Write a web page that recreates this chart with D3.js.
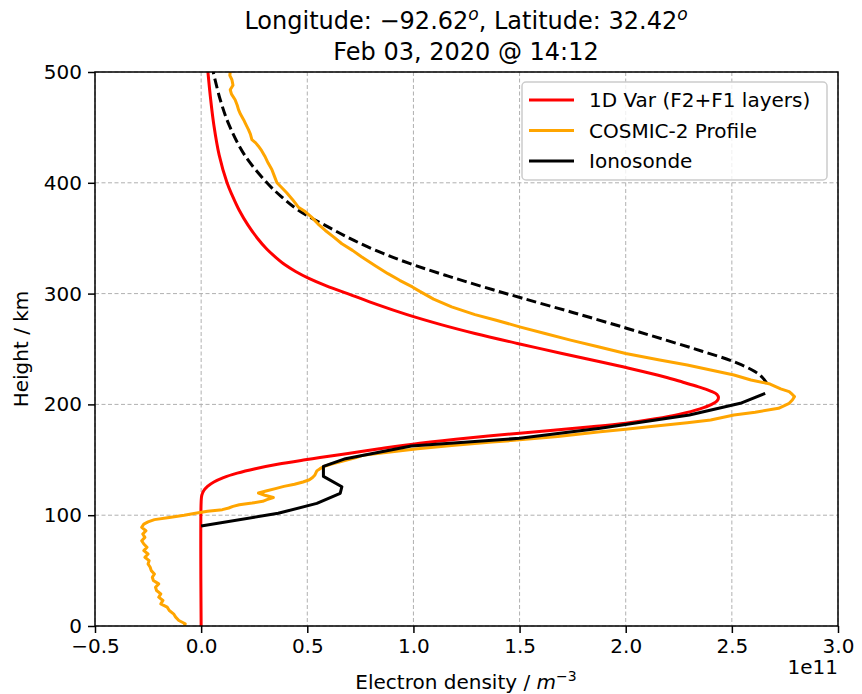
<!DOCTYPE html>
<html><head><meta charset="utf-8">
<script src="https://cdn.jsdelivr.net/npm/d3@7"></script>
<style>body{margin:0;background:#fff}svg text{font-family:"DejaVu Sans",sans-serif;fill:#000}</style>
</head><body><svg id="c" width="862" height="694"></svg>
<script>
const xTicks = [-0.5,0.0,0.5,1.0,1.5,2.0,2.5,3.0];
const yTicks = [0,100,200,300,400,500];
const seriesNames = ["1D Var (F2+F1 layers)","COSMIC-2 Profile","Ionosonde"];
const seriesColors = ["#ff0000","#ffa500","#000000"];
// heights in km, densities in 1e11 m^-3
const varH = [0,112,118,122,126,130,134,138,142,146,150,152,156,160,165,170,174,180,183,187,191,196,200,203,206,209,212,216,220,225,232,238,246,255,264,272,281,290,300,307,314,320,326,333,340,350,362,375,388,400,425,452,475,500];
const varV = [0,0,0.003,0.012,0.03,0.06,0.105,0.17,0.255,0.36,0.49,0.56,0.70,0.84,1.03,1.27,1.50,1.85,2.0,2.14,2.25,2.35,2.405,2.43,2.437,2.43,2.40,2.34,2.27,2.18,2.03,1.89,1.70,1.49,1.29,1.13,0.97,0.83,0.69,0.59,0.505,0.445,0.395,0.35,0.31,0.265,0.22,0.18,0.148,0.122,0.085,0.06,0.045,0.032];
const cosH = [0,2,5,8,11,14,17,20,23,26,29,32,35,38,41,44,47,50,53,56,59,62,65,68,71,74,77,80,83,86,89,92,94,96,98,100,102,103.5,105,106.5,108,109.5,111,112.5,114,116,118,120,122,124,126,128,130,132,134,136,138,140,142,144,146,148,150,152,154,156,158,160,163,166,168,171,175.4,177.5,180,183.5,186,190.4,193,196.5,201,204,207,209,211.5,214,218.4,222,226.5,231,235.6,240,246,252,258,264,270,276,281,288,295,302,306,312,318,325,333,339,345,351,357,363,369,374,378,385,391,396,400,406,412,418,424,429,433,436,439,444,448,453,457,462,466,470,475,480,484,488,493,497,500];
const cosV = [-0.08,-0.075,-0.105,-0.12,-0.13,-0.15,-0.16,-0.19,-0.18,-0.20,-0.19,-0.21,-0.215,-0.20,-0.225,-0.23,-0.22,-0.235,-0.24,-0.25,-0.245,-0.265,-0.25,-0.27,-0.255,-0.27,-0.28,-0.265,-0.275,-0.26,-0.28,-0.27,-0.25,-0.22,-0.15,-0.08,-0.02,0.03,0.10,0.13,0.15,0.18,0.24,0.29,0.31,0.34,0.30,0.27,0.31,0.35,0.39,0.44,0.48,0.51,0.525,0.535,0.54,0.545,0.56,0.58,0.61,0.65,0.69,0.73,0.76,0.84,0.93,1.02,1.18,1.37,1.50,1.68,1.88,2.0,2.12,2.29,2.40,2.51,2.61,2.72,2.77,2.785,2.795,2.785,2.77,2.73,2.68,2.59,2.51,2.40,2.29,2.16,2.0,1.87,1.74,1.62,1.50,1.39,1.29,1.18,1.095,1.03,0.995,0.935,0.88,0.822,0.757,0.713,0.663,0.625,0.585,0.55,0.52,0.49,0.458,0.43,0.403,0.378,0.357,0.345,0.333,0.315,0.30,0.285,0.27,0.257,0.239,0.232,0.223,0.21,0.20,0.185,0.176,0.17,0.16,0.143,0.137,0.15,0.145,0.135,0.137];
const ionoH = [90.3,101.7,110.7,119.8,125.7,135,144,151,162.5,169.4,178.4,190.4,201,210];
const ionoV = [0.0,0.363,0.545,0.655,0.663,0.576,0.576,0.68,0.99,1.50,1.88,2.30,2.54,2.657];
const topH = [219,224,229.5,238.5,248,258,269,283,296,306,316,326,336,348,360,375,388,400,425,452,475,500];
const topV = [2.665,2.645,2.61,2.51,2.36,2.19,2.0,1.75,1.51,1.33,1.16,1.00,0.86,0.72,0.60,0.46,0.375,0.31,0.205,0.132,0.09,0.057];

const svg = d3.select("#c");
const L=95,R=838,T=72,B=626;
const x = d3.scaleLinear().domain([-0.5,3.0]).range([L,R]);
const y = d3.scaleLinear().domain([0,500]).range([B,T]);

// grid
const g = svg.append("g");
g.selectAll(".gx").data(xTicks).enter().append("line")
 .attr("x1",d=>x(d)).attr("x2",d=>x(d)).attr("y1",T).attr("y2",B)
 .attr("stroke","#b0b0b0").attr("stroke-width",1).attr("stroke-dasharray","4,2.5");
g.selectAll(".gy").data(yTicks).enter().append("line")
 .attr("y1",d=>y(d)).attr("y2",d=>y(d)).attr("x1",L).attr("x2",R)
 .attr("stroke","#b0b0b0").attr("stroke-width",1).attr("stroke-dasharray","4,2.5");

const zip=(H,V)=>H.map((h,i)=>[V[i],h]);
const lineS = d3.line().x(d=>x(d[0])).y(d=>y(d[1])).curve(d3.curveCatmullRom.alpha(0.5));
const lineL = d3.line().x(d=>x(d[0])).y(d=>y(d[1]));
svg.append("clipPath").attr("id","cp").append("rect").attr("x",L).attr("y",T).attr("width",R-L).attr("height",B-T);
const pg = svg.append("g").attr("clip-path","url(#cp)");
pg.append("path").attr("d",lineS(zip(topH,topV))).attr("fill","none").attr("stroke","#000").attr("stroke-width",3).attr("stroke-dasharray","10,4.5");
pg.append("path").attr("d",lineS(zip(varH,varV))).attr("fill","none").attr("stroke",seriesColors[0]).attr("stroke-width",3);
pg.append("path").attr("d",lineL(zip(cosH,cosV))).attr("fill","none").attr("stroke",seriesColors[1]).attr("stroke-width",3).attr("stroke-linejoin","round");
pg.append("path").attr("d",lineL(zip(ionoH,ionoV))).attr("fill","none").attr("stroke",seriesColors[2]).attr("stroke-width",3).attr("stroke-linejoin","round");

// axes
const xa = svg.append("g").attr("transform",`translate(0,${B})`).call(d3.axisBottom(x).tickValues(xTicks).tickFormat(d3.format(".1f")).tickSize(7).tickPadding(6));
const ya = svg.append("g").attr("transform",`translate(${L},0)`).call(d3.axisLeft(y).tickValues(yTicks).tickSize(7).tickPadding(6));
[xa,ya].forEach(a=>{a.select(".domain").remove();a.selectAll("text").attr("font-size",20).attr("font-family","DejaVu Sans");a.selectAll("line").attr("stroke","#000").attr("stroke-width",1.5);});
xa.selectAll("text").text(d=>d<0?"\u2212"+Math.abs(d).toFixed(1):d.toFixed(1));
svg.append("rect").attr("x",L).attr("y",T).attr("width",R-L).attr("height",B-T).attr("fill","none").attr("stroke","#000").attr("stroke-width",1.5);

// labels
svg.append("text").attr("x",466).attr("y",689).attr("text-anchor","middle").attr("font-size",20)
 .html('Electron density / <tspan font-style="italic">m</tspan><tspan dy="-8" font-size="14">\u22123</tspan>');
svg.append("text").attr("x",R).attr("y",674).attr("text-anchor","end").attr("font-size",20).text("1e11");
svg.append("text").attr("transform","translate(28,349) rotate(-90)").attr("text-anchor","middle").attr("font-size",20).text("Height / km");
svg.append("text").attr("x",466).attr("y",29).attr("text-anchor","middle").attr("font-size",24)
 .html('Longitude: \u221292.62<tspan dy="-9" font-size="17" font-style="italic">o</tspan><tspan dy="9">, Latitude: 32.42</tspan><tspan dy="-9" font-size="17" font-style="italic">o</tspan>');
svg.append("text").attr("x",466).attr("y",60).attr("text-anchor","middle").attr("font-size",24).text("Feb 03, 2020 @ 14:12");

// legend
const lg = svg.append("g");
lg.append("rect").attr("x",522).attr("y",82).attr("width",305).attr("height",98).attr("rx",4)
 .attr("fill","#fff").attr("fill-opacity",0.8).attr("stroke","#cccccc").attr("stroke-width",1.5);
seriesNames.forEach((n,i)=>{
  const yy=100+i*30.5;
  lg.append("line").attr("x1",529).attr("x2",574).attr("y1",yy).attr("y2",yy).attr("stroke",seriesColors[i]).attr("stroke-width",3);
  lg.append("text").attr("x",589).attr("y",yy+7).attr("font-size",20).text(n);
});
</script></body></html>
